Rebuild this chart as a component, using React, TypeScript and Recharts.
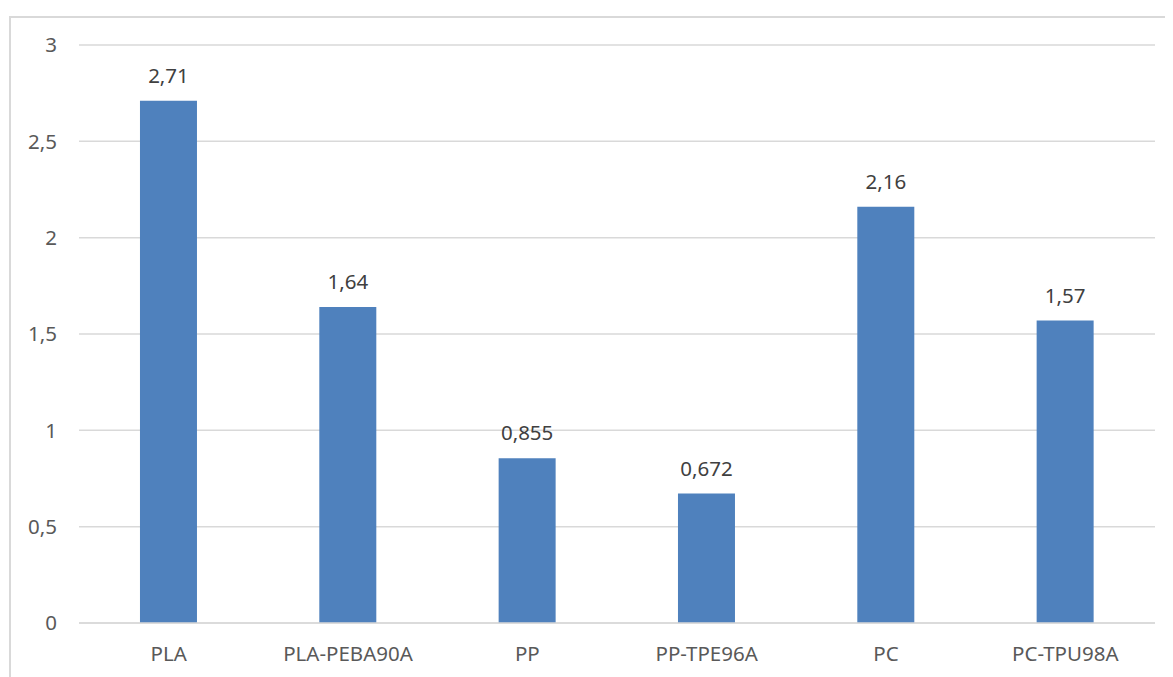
import React from "react";
import { BarChart, Bar, XAxis, YAxis, CartesianGrid, LabelList } from "recharts";

const categories = ["PLA", "PLA-PEBA90A", "PP", "PP-TPE96A", "PC", "PC-TPU98A"];
const values = [2.71, 1.64, 0.855, 0.672, 2.16, 1.57];
const yTicks = [0, 0.5, 1, 1.5, 2, 2.5, 3];

const data = categories.map((c, i) => ({ name: c, value: values[i] }));
const fmt = (v: number) => String(v).replace(".", ",");
const FONT = "'Noto Sans', sans-serif";

export default function App() {
  return (
    <div style={{ position: "relative", width: 1165, height: 669, overflow: "hidden" }}>
      <div
        style={{
          position: "absolute",
          left: 1,
          top: 8,
          width: 1200,
          height: 700,
          border: "2px solid #d9d9d9",
          boxSizing: "border-box",
        }}
      />
      <div style={{ position: "absolute", left: 0, top: 0 }}>
        <BarChart
          width={1165}
          height={669}
          data={data}
          margin={{ top: 37, right: 18, bottom: 14, left: 0 }}
          barCategoryGap="34%"
        >
          <CartesianGrid vertical={false} stroke="#d9d9d9" strokeWidth={1.5} />
          <XAxis
            dataKey="name"
            axisLine={{ stroke: "#d9d9d9", strokeWidth: 1.5 }}
            tickLine={false}
            tickMargin={17}
            height={40}
            tick={{ fill: "#595959", fontSize: 20.5, fontFamily: FONT }}
          />
          <YAxis
            domain={[0, 3]}
            ticks={yTicks}
            width={71}
            axisLine={false}
            tickLine={false}
            tickMargin={16}
            tickFormatter={fmt}
            tick={{ fill: "#595959", fontSize: 20.5, fontFamily: FONT }}
          />
          <Bar dataKey="value" fill="#4f81bd" isAnimationActive={false}>
            <LabelList
              dataKey="value"
              position="top"
              offset={18}
              formatter={(v: any) => fmt(v)}
              style={{ fill: "#404040", fontSize: 20.5, fontFamily: FONT }}
            />
          </Bar>
        </BarChart>
      </div>
    </div>
  );
}
